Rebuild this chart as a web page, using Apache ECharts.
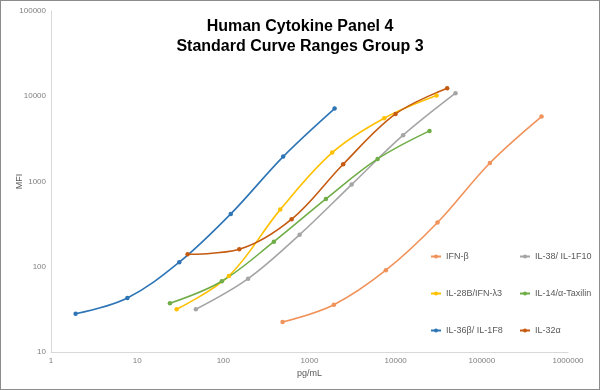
<!DOCTYPE html>
<html>
<head>
<meta charset="utf-8">
<script src="https://cdn.jsdelivr.net/npm/echarts@6/dist/echarts.min.js"></script>
<style>
html,body{margin:0;padding:0;background:#fff;}
#wrap{width:600px;height:390px;box-sizing:border-box;border:1px solid #8c8c8c;position:relative;}
#chart{width:598px;height:388px;}
</style>
</head>
<body>
<div id="wrap"><div id="chart"></div></div>
<script>
// Series names
const seriesNames = ["IFN-β", "IL-38/ IL-1F10", "IL-28B/IFN-λ3", "IL-14/α-Taxilin", "IL-36β/ IL-1F8", "IL-32α"];
// pg/mL (x) values per series
const xIFNb   = [487, 1920, 7700, 30600, 124000, 493000];
const xIL38   = [48, 194, 768, 3080, 12200, 49500];
const xIL28B  = [28.7, 116, 457, 1834, 7360, 29800];
const xIL14   = [24, 96, 386, 1550, 6170, 24700];
const xIL36b  = [1.93, 7.7, 30.8, 122, 495, 1955];
const xIL32a  = [38.5, 153, 620, 2460, 9970, 39600];
// MFI (y) values per series
const yIFNb   = [22.5, 35.9, 91, 330, 1650, 5780];
const yIL38   = [31.7, 72.5, 238, 920, 3490, 10870];
const yIL28B  = [31.7, 78, 468, 2185, 5530, 10190];
const yIL14   = [37.3, 67.6, 197, 625, 1842, 3925];
const yIL36b  = [28.1, 43, 113, 417, 1960, 7170];
const yIL32a  = [140, 160, 361, 1596, 6210, 12440];
// Tick labels
const xTicks = [1, 10, 100, 1000, 10000, 100000, 1000000];
const yTicks = [10, 100, 1000, 10000, 100000];

const xs = [xIFNb, xIL38, xIL28B, xIL14, xIL36b, xIL32a];
const ys = [yIFNb, yIL38, yIL28B, yIL14, yIL36b, yIL32a];
const colors = ["#F0925A", "#A5A5A5", "#FFC000", "#70AD47", "#2E75B6", "#C55A11"];

const chart = echarts.init(document.getElementById('chart'));
const series = seriesNames.map((n, i) => ({
  name: n,
  type: 'line',
  smooth: 0.35,
  symbol: 'circle',
  symbolSize: 4.5,
  lineStyle: {width: 1.6, color: colors[i]},
  itemStyle: {color: colors[i]},
  data: xs[i].map((x, j) => [x, ys[i][j]])
}));
const legendText = {fontFamily: 'Liberation Sans', fontSize: 9, color: '#595959'};
const legendBase = {orient: 'vertical', top: 251, padding: 0, itemGap: 28, itemWidth: 10, itemHeight: 5, textStyle: legendText};
chart.setOption({
  animation: false,
  title: {
    text: 'Human Cytokine Panel 4\nStandard Curve Ranges Group 3',
    left: 'center', top: 11,
    textStyle: {fontFamily: 'Liberation Sans', fontSize: 16, fontWeight: 'bold', color: '#000', lineHeight: 20}
  },
  grid: {left: 50, right: 31, top: 10, bottom: 37, outerBoundsMode: 'none', containLabel: false},
  legend: [
    Object.assign({data: [seriesNames[0], seriesNames[2], seriesNames[4]], left: 429}, legendBase),
    Object.assign({data: [seriesNames[1], seriesNames[3], seriesNames[5]], left: 518}, legendBase)
  ],
  xAxis: {
    type: 'log', logBase: 10, min: 1, max: 1000000,
    name: 'pg/mL', nameLocation: 'middle', nameGap: 17, nameMoveOverlap: false,
    nameTextStyle: {fontFamily: 'Liberation Sans', fontSize: 9, color: '#595959'},
    axisLine: {lineStyle: {color: '#d9d9d9'}},
    axisTick: {show: false},
    splitLine: {show: false},
    axisLabel: {fontFamily: 'Liberation Sans', fontSize: 8, color: '#7f7f7f', margin: 5,
      formatter: v => { const t = xTicks.find(k => Math.abs(k - v) / k < 1e-6); return t === undefined ? '' : String(t); }}
  },
  yAxis: {
    type: 'log', logBase: 10, min: 10, max: 100000,
    name: 'MFI', nameLocation: 'middle', nameGap: 27, nameMoveOverlap: false,
    nameTextStyle: {fontFamily: 'Liberation Sans', fontSize: 9, color: '#595959'},
    axisLine: {show: true, lineStyle: {color: '#d9d9d9'}},
    axisTick: {show: false},
    splitLine: {show: false},
    axisLabel: {fontFamily: 'Liberation Sans', fontSize: 8, color: '#7f7f7f', margin: 5,
      formatter: v => { const t = yTicks.find(k => Math.abs(k - v) / k < 1e-6); return t === undefined ? '' : String(t); }}
  },
  series: series
});
</script>
</body>
</html>
